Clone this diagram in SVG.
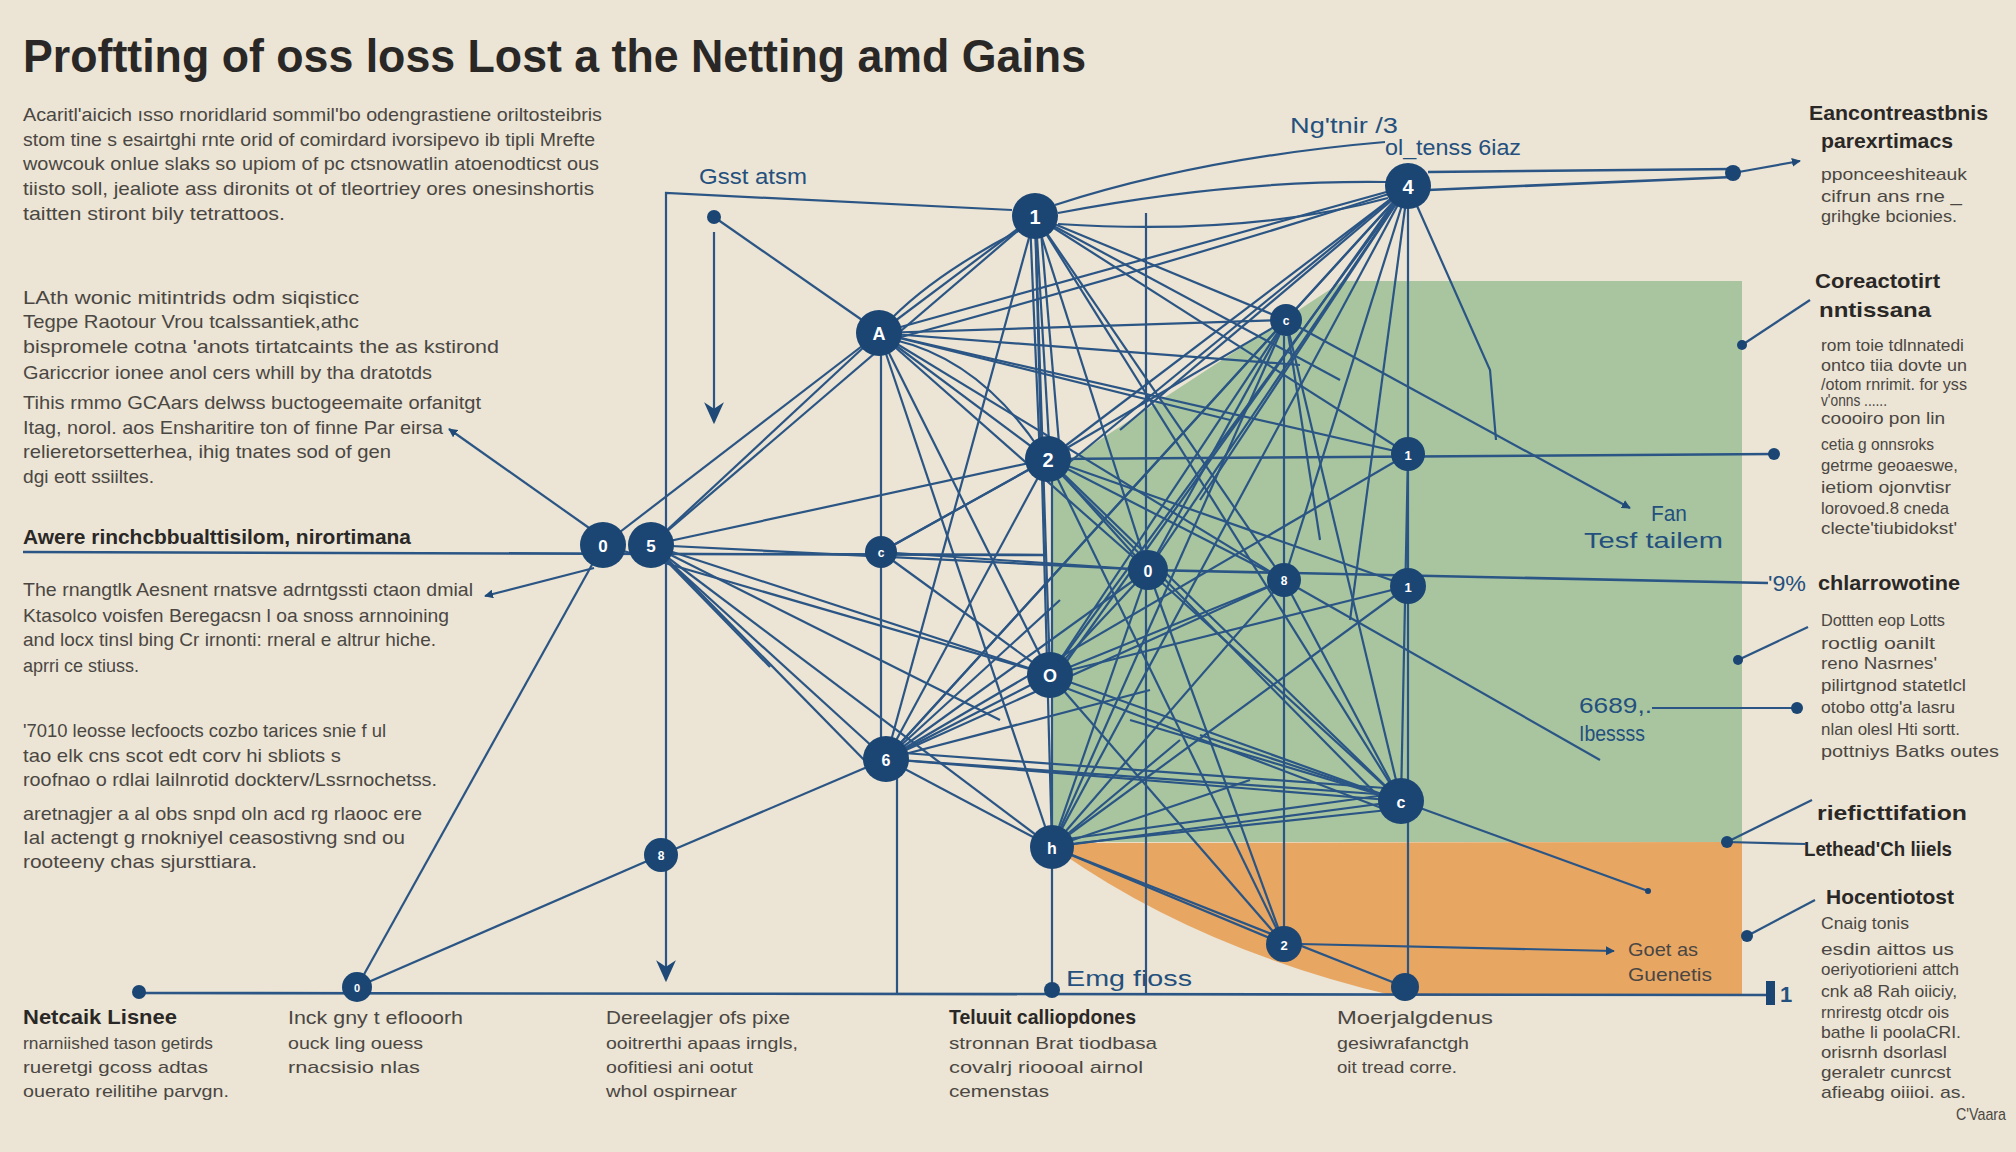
<svg xmlns="http://www.w3.org/2000/svg" width="2016" height="1152" viewBox="0 0 2016 1152">
<defs>
<style>
.t{font-family:"Liberation Sans",Arial,sans-serif;fill:#4a4743;font-size:19px}
.h{font-family:"Liberation Sans",Arial,sans-serif;fill:#2a2826;font-weight:bold;font-size:21px}
.s{font-family:"Liberation Sans",Arial,sans-serif;fill:#4a4743;font-size:17px}
.nv{font-family:"Liberation Sans",Arial,sans-serif;fill:#24507e;font-size:22px}
.e{stroke:#2a5584;stroke-width:2.2;fill:none}
.k{stroke:#2a5584;stroke-width:2.6;fill:none}
.n{fill:#1b4674}
.nl{font-family:"Liberation Sans",Arial,sans-serif;fill:#ffffff;font-weight:bold;text-anchor:middle;dominant-baseline:central}
</style>
<marker id="ar" viewBox="0 0 10 10" refX="9" refY="5" markerWidth="9" markerHeight="9" orient="auto-start-reverse" markerUnits="userSpaceOnUse">
<path d="M0,0 L10,5 L0,10 z" fill="#1f4a78"/>
</marker>
<marker id="arL" viewBox="0 0 10 10" refX="9" refY="5" markerWidth="22" markerHeight="22" orient="auto" markerUnits="userSpaceOnUse">
<path d="M0,0.5 L10,5 L0,9.5 L3,5 z" fill="#1f4a78"/>
</marker>
</defs>
<rect width="2016" height="1152" fill="#ece4d4"/>

<!-- regions -->
<polygon points="1343,281 1742,281 1742,842 1052,842 1052,478 1072,458" fill="#a9c5a0"/>
<path d="M1052,843 L1742,842 L1742,996 L1395,996 Q1200,950 1060,852 Z" fill="#e8a663"/>

<!-- title -->
<text x="23" y="72" font-family="Liberation Sans, Arial, sans-serif" font-weight="bold" font-size="46" fill="#2a2826" textLength="1063" lengthAdjust="spacingAndGlyphs">Proftting of oss loss Lost a the Netting amd Gains</text>

<!-- left paragraphs -->
<g id="para1">
<text class="t" x="23" y="121" textLength="579" lengthAdjust="spacingAndGlyphs">Acaritl'aicich ısso rnoridlarid sommil'bo odengrastiene oriltosteibris</text>
<text class="t" x="23" y="146" textLength="572" lengthAdjust="spacingAndGlyphs">stom tine s esairtghi rnte orid of comirdard ivorsipevo ib tipli Mrefte</text>
<text class="t" x="23" y="170" textLength="576" lengthAdjust="spacingAndGlyphs">wowcouk onlue slaks so upiom of pc ctsnowatlin atoenodticst ous</text>
<text class="t" x="23" y="195" textLength="571" lengthAdjust="spacingAndGlyphs">tiisto soll, jealiote ass dironits ot of tleortriey ores onesinshortis</text>
<text class="t" x="23" y="220" textLength="262" lengthAdjust="spacingAndGlyphs">taitten stiront bily tetrattoos.</text>
</g>
<g id="para2">
<text class="t" x="23" y="304" textLength="336" lengthAdjust="spacingAndGlyphs">LAth wonic mitintrids odm siqisticc</text>
<text class="t" x="23" y="328" textLength="336" lengthAdjust="spacingAndGlyphs">Tegpe Raotour Vrou tcalssantiek,athc</text>
<text class="t" x="23" y="353" textLength="476" lengthAdjust="spacingAndGlyphs">bispromele cotna 'anots tirtatcaints the as kstirond</text>
<text class="t" x="23" y="379" textLength="409" lengthAdjust="spacingAndGlyphs">Gariccrior ionee anol cers whill by tha dratotds</text>
<text class="t" x="23" y="409" textLength="458" lengthAdjust="spacingAndGlyphs">Tihis rmmo GCAars delwss buctogeemaite orfanitgt</text>
<text class="t" x="23" y="434" textLength="420" lengthAdjust="spacingAndGlyphs">Itag, norol. aos Ensharitire ton of finne Par eirsa</text>
<text class="t" x="23" y="458" textLength="368" lengthAdjust="spacingAndGlyphs">relieretorsetterhea, ihig tnates sod of gen</text>
<text class="t" x="23" y="483" textLength="131" lengthAdjust="spacingAndGlyphs">dgi eott ssiiltes.</text>
</g>
<g id="heading-left">
<text class="h" x="23" y="544" font-size="20" textLength="388" lengthAdjust="spacingAndGlyphs">Awere rinchcbbualttisilom, nirortimana</text>
</g>
<g id="para3">
<text class="t" x="23" y="596" textLength="450" lengthAdjust="spacingAndGlyphs">The rnangtlk Aesnent rnatsve adrntgssti ctaon dmial</text>
<text class="t" x="23" y="622" textLength="426" lengthAdjust="spacingAndGlyphs">Ktasolco voisfen Beregacsn l oa snoss arnnoining</text>
<text class="t" x="23" y="646" textLength="413" lengthAdjust="spacingAndGlyphs">and locx tinsl bing Cr irnonti: rneral e altrur hiche.</text>
<text class="t" x="23" y="672" textLength="116" lengthAdjust="spacingAndGlyphs">aprri ce stiuss.</text>
</g>
<g id="para4">
<text class="t" x="23" y="737" textLength="363" lengthAdjust="spacingAndGlyphs">'7010 leosse lecfoocts cozbo tarices snie f ul</text>
<text class="t" x="23" y="762" textLength="318" lengthAdjust="spacingAndGlyphs">tao elk cns scot edt corv hi sbliots s</text>
<text class="t" x="23" y="786" textLength="414" lengthAdjust="spacingAndGlyphs">roofnao o rdlai lailnrotid dockterv/Lssrnochetss.</text>
<text class="t" x="23" y="820" textLength="399" lengthAdjust="spacingAndGlyphs">aretnagjer a al obs snpd oln acd rg rlaooc ere</text>
<text class="t" x="23" y="844" textLength="382" lengthAdjust="spacingAndGlyphs">Ial actengt g rnokniyel ceasostivng snd ou</text>
<text class="t" x="23" y="868" textLength="234" lengthAdjust="spacingAndGlyphs">rooteeny chas sjursttiara.</text>
</g>

<!-- right column -->
<g id="right1">
<text class="h" x="1809" y="120" textLength="179" lengthAdjust="spacingAndGlyphs">Eancontreastbnis</text>
<text class="h" x="1821" y="148" textLength="132" lengthAdjust="spacingAndGlyphs">parexrtimacs</text>
<text class="s" x="1821" y="180" textLength="146" lengthAdjust="spacingAndGlyphs">pponceeshiteauk</text>
<text class="s" x="1821" y="202" textLength="141" lengthAdjust="spacingAndGlyphs">cifrun ans rne _</text>
<text class="s" x="1821" y="222" textLength="136" lengthAdjust="spacingAndGlyphs">grihgke bcionies.</text>
</g>
<g id="right2">
<text class="h" x="1815" y="288" textLength="125" lengthAdjust="spacingAndGlyphs">Coreactotirt</text>
<text class="h" x="1819" y="317" textLength="112" lengthAdjust="spacingAndGlyphs">nntissana</text>
<text class="s" x="1821" y="351" textLength="143" lengthAdjust="spacingAndGlyphs">rom toie tdlnnatedi</text>
<text class="s" x="1821" y="371" textLength="146" lengthAdjust="spacingAndGlyphs">ontco tiia dovte un</text>
<text class="s" x="1821" y="390" textLength="146" lengthAdjust="spacingAndGlyphs">/otom rnrimit. for yss</text>
<text class="s" x="1821" y="406" font-size="8" textLength="66" lengthAdjust="spacingAndGlyphs">v'onns  ......</text>
<text class="s" x="1821" y="424" textLength="124" lengthAdjust="spacingAndGlyphs">coooiro pon lin</text>
<text class="s" x="1821" y="450" textLength="113" lengthAdjust="spacingAndGlyphs">cetia g onnsroks</text>
<text class="s" x="1821" y="471" textLength="137" lengthAdjust="spacingAndGlyphs">getrme geoaeswe,</text>
<text class="s" x="1821" y="493" textLength="130" lengthAdjust="spacingAndGlyphs">ietiom ojonvtisr</text>
<text class="s" x="1821" y="514" textLength="128" lengthAdjust="spacingAndGlyphs">lorovoed.8 cneda</text>
<text class="s" x="1821" y="534" textLength="136" lengthAdjust="spacingAndGlyphs">clecte'tiubidokst'</text>
</g>
<g id="right3">
<text class="nv" x="1768" y="591" font-size="21" textLength="38" lengthAdjust="spacingAndGlyphs">'9%</text>
<text class="h" x="1818" y="590" textLength="142" lengthAdjust="spacingAndGlyphs">chlarrowotine</text>
<text class="s" x="1821" y="626" textLength="124" lengthAdjust="spacingAndGlyphs">Dottten eop Lotts</text>
<text class="s" x="1821" y="649" textLength="114" lengthAdjust="spacingAndGlyphs">roctlig oanilt</text>
<text class="s" x="1821" y="669" textLength="116" lengthAdjust="spacingAndGlyphs">reno Nasrnes'</text>
<text class="s" x="1821" y="691" textLength="145" lengthAdjust="spacingAndGlyphs">pilirtgnod statetlcl</text>
<text class="s" x="1821" y="713" textLength="134" lengthAdjust="spacingAndGlyphs">otobo ottg'a lasru</text>
<text class="s" x="1821" y="735" textLength="139" lengthAdjust="spacingAndGlyphs">nlan olesl Hti sortt.</text>
<text class="s" x="1821" y="757" textLength="178" lengthAdjust="spacingAndGlyphs">pottniys Batks outes</text>
</g>
<g id="right4">
<text class="h" x="1817" y="820" textLength="150" lengthAdjust="spacingAndGlyphs">rieficttifation</text>
<text class="h" x="1804" y="856" textLength="148" lengthAdjust="spacingAndGlyphs">Lethead'Ch liiels</text>
</g>
<g id="right5">
<text class="h" x="1826" y="904" textLength="128" lengthAdjust="spacingAndGlyphs">Hocentiotost</text>
<text class="s" x="1821" y="929" textLength="88" lengthAdjust="spacingAndGlyphs">Cnaig tonis</text>
<text class="s" x="1821" y="955" textLength="133" lengthAdjust="spacingAndGlyphs">esdin aittos us</text>
<text class="s" x="1821" y="975" textLength="138" lengthAdjust="spacingAndGlyphs">oeriyotiorieni attch</text>
<text class="s" x="1821" y="997" textLength="136" lengthAdjust="spacingAndGlyphs">cnk a8 Rah oiiciy,</text>
<text class="s" x="1821" y="1018" textLength="128" lengthAdjust="spacingAndGlyphs">rnrirestg otcdr ois</text>
<text class="s" x="1821" y="1038" textLength="140" lengthAdjust="spacingAndGlyphs">bathe li poolaCRI.</text>
<text class="s" x="1821" y="1058" textLength="126" lengthAdjust="spacingAndGlyphs">orisrnh dsorlasl</text>
<text class="s" x="1821" y="1078" textLength="130" lengthAdjust="spacingAndGlyphs">geraletr cunrcst</text>
<text class="s" x="1821" y="1098" textLength="145" lengthAdjust="spacingAndGlyphs">afieabg oiiioi. as.</text>
<text class="s" x="1956" y="1120" font-size="15" textLength="50" lengthAdjust="spacingAndGlyphs">C'Vaara</text>
</g>

<!-- bottom columns -->
<g id="bottom1">
<text class="h" x="23" y="1024" font-size="20" textLength="154" lengthAdjust="spacingAndGlyphs">Netcaik Lisnee</text>
<text class="s" x="23" y="1049" textLength="190" lengthAdjust="spacingAndGlyphs">rnarniished tason getirds</text>
<text class="s" x="23" y="1073" textLength="185" lengthAdjust="spacingAndGlyphs">rueretgi gcoss adtas</text>
<text class="s" x="23" y="1097" textLength="206" lengthAdjust="spacingAndGlyphs">ouerato reilitihe parvgn.</text>
</g>
<g id="bottom2">
<text class="t" x="288" y="1024" textLength="175" lengthAdjust="spacingAndGlyphs">Inck gny t eflooorh</text>
<text class="s" x="288" y="1049" textLength="135" lengthAdjust="spacingAndGlyphs">ouck ling ouess</text>
<text class="s" x="288" y="1073" textLength="132" lengthAdjust="spacingAndGlyphs">rnacsisio nlas</text>
</g>
<g id="bottom3">
<text class="t" x="606" y="1024" textLength="184" lengthAdjust="spacingAndGlyphs">Dereelagjer ofs pixe</text>
<text class="s" x="606" y="1049" textLength="192" lengthAdjust="spacingAndGlyphs">ooitrerthi apaas irngls,</text>
<text class="s" x="606" y="1073" textLength="147" lengthAdjust="spacingAndGlyphs">oofitiesi ani ootut</text>
<text class="s" x="606" y="1097" textLength="131" lengthAdjust="spacingAndGlyphs">whol ospirnear</text>
</g>
<g id="bottom4">
<text class="h" x="949" y="1024" font-size="20" textLength="187" lengthAdjust="spacingAndGlyphs">Teluuit calliopdones</text>
<text class="s" x="949" y="1049" textLength="208" lengthAdjust="spacingAndGlyphs">stronnan Brat tiodbasa</text>
<text class="s" x="949" y="1073" textLength="194" lengthAdjust="spacingAndGlyphs">covalrj rioooal airnol</text>
<text class="s" x="949" y="1097" textLength="100" lengthAdjust="spacingAndGlyphs">cemenstas</text>
</g>
<g id="bottom5">
<text class="t" x="1337" y="1024" textLength="156" lengthAdjust="spacingAndGlyphs">Moerjalgdenus</text>
<text class="s" x="1337" y="1049" textLength="132" lengthAdjust="spacingAndGlyphs">gesiwrafanctgh</text>
<text class="s" x="1337" y="1073" textLength="120" lengthAdjust="spacingAndGlyphs">oit tread corre.</text>
</g>

<!-- in-diagram labels -->
<g id="labels">
<text class="nv" x="699" y="184" font-size="21" fill="#2e4a68" textLength="108" lengthAdjust="spacingAndGlyphs">Gsst atsm</text>
<text class="nv" x="1290" y="133" font-size="19" fill="#2e4a68" textLength="108" lengthAdjust="spacingAndGlyphs">Ng'tnir /3</text>
<text class="nv" x="1385" y="155" font-size="19" fill="#2e4a68" textLength="136" lengthAdjust="spacingAndGlyphs">ol_tenss 6iaz</text>
<text class="nv" x="1651" y="521" font-size="17" textLength="36" lengthAdjust="spacingAndGlyphs">Fan</text>
<text class="nv" x="1584" y="548" font-size="24" textLength="139" lengthAdjust="spacingAndGlyphs">Tesf tailem</text>
<text class="nv" x="1579" y="713" font-size="22" textLength="73" lengthAdjust="spacingAndGlyphs">6689,.</text>
<text class="nv" x="1579" y="741" font-size="22" textLength="66" lengthAdjust="spacingAndGlyphs">Ibessss</text>
<text class="t" x="1628" y="956" font-size="22" fill="#3e3a36" textLength="70" lengthAdjust="spacingAndGlyphs">Goet as</text>
<text class="t" x="1628" y="981" font-size="21" fill="#3e3a36" textLength="84" lengthAdjust="spacingAndGlyphs">Guenetis</text>
<text class="nv" x="1066" y="986" font-size="25" textLength="126" lengthAdjust="spacingAndGlyphs">Emg fioss</text>
<text class="nv" x="1780" y="1002" font-size="24" font-weight="bold">1</text>
</g>

<!-- connectors -->
<g id="connectors">
<!-- structural lines -->
<line class="k" x1="139" y1="993" x2="1774" y2="995"/>
<line class="k" x1="23" y1="552" x2="1045" y2="555"/>
<polyline class="e" points="1012,210 666,193 666,980" marker-end="url(#arL)"/>
<line class="e" x1="714" y1="232" x2="714" y2="422" marker-end="url(#arL)"/>
<line class="e" x1="714" y1="217" x2="862" y2="320"/>
<line class="e" x1="881" y1="333" x2="881" y2="759"/>
<line class="e" x1="897" y1="778" x2="897" y2="994"/>
<line class="e" x1="1052" y1="478" x2="1052" y2="991"/>
<line class="e" x1="1146" y1="213" x2="1146" y2="994"/>
<line class="e" x1="1284" y1="336" x2="1284" y2="944"/>
<line class="e" x1="1408" y1="186" x2="1408" y2="987"/>
<line class="k" x1="1048" y1="459" x2="1774" y2="454"/>
<line class="k" x1="1148" y1="570" x2="1768" y2="583"/>
<line class="e" x1="1300" y1="944" x2="1614" y2="951" marker-end="url(#ar)"/>
<line class="k" x1="1428" y1="172" x2="1733" y2="169"/>
<line class="k" x1="1428" y1="190" x2="1733" y2="177"/>
<line class="e" x1="1733" y1="173" x2="1800" y2="161" marker-end="url(#ar)"/>
<polyline class="e" points="1410,190 1490,370 1496,440"/>
<line class="e" x1="1286" y1="320" x2="1630" y2="508" marker-end="url(#ar)"/>
<line class="e" x1="1401" y1="801" x2="1648" y2="891"/>
<line class="e" x1="592" y1="530" x2="449" y2="429" marker-end="url(#ar)"/>
<line class="e" x1="594" y1="568" x2="485" y2="596" marker-end="url(#ar)"/>
<line class="e" x1="603" y1="545" x2="357" y2="987"/>
<line class="e" x1="357" y1="987" x2="661" y2="855"/>
<line class="e" x1="661" y1="855" x2="886" y2="759"/>
<path class="e" d="M1055,205 Q1200,158 1385,142"/>
<path class="e" d="M1058,213 Q1230,180 1386,182"/>
<path class="e" d="M1058,224 Q1250,236 1388,198"/>
<!-- callouts -->
<line class="e" x1="1742" y1="345" x2="1810" y2="300"/>
<line class="e" x1="1738" y1="660" x2="1808" y2="627"/>
<line class="e" x1="1727" y1="842" x2="1812" y2="800"/>
<line class="e" x1="1727" y1="842" x2="1806" y2="844"/>
<line class="e" x1="1747" y1="936" x2="1815" y2="900"/>
<line class="e" x1="1652" y1="708" x2="1797" y2="708"/>
<!-- network from node 1 -->
<line class="e" x1="1035" y1="216" x2="879" y2="333"/>
<path class="e" d="M1030,225 Q940,270 892,318"/>
<line class="e" x1="1030" y1="220" x2="1040" y2="459"/>
<line class="e" x1="1036" y1="220" x2="1050" y2="459"/>
<line class="e" x1="1040" y1="220" x2="1060" y2="455"/>
<line class="e" x1="1035" y1="216" x2="1050" y2="675"/>
<line class="e" x1="1035" y1="216" x2="1148" y2="570"/>
<line class="e" x1="1035" y1="216" x2="1284" y2="580"/>
<line class="e" x1="1035" y1="216" x2="1286" y2="320"/>
<line class="e" x1="1035" y1="216" x2="886" y2="759"/>
<line class="e" x1="1035" y1="216" x2="651" y2="545"/>
<line class="e" x1="1035" y1="216" x2="1401" y2="801"/>
<line class="e" x1="1035" y1="216" x2="1408" y2="454"/>
<line class="e" x1="1035" y1="216" x2="1340" y2="380"/>
<line class="e" x1="1035" y1="216" x2="1052" y2="847"/>
<!-- network from node 4 -->
<line class="e" x1="1408" y1="186" x2="1048" y2="459"/>
<line class="e" x1="1402" y1="190" x2="1060" y2="470"/>
<line class="e" x1="1408" y1="186" x2="879" y2="333"/>
<path class="e" d="M1395,192 Q1150,270 890,340"/>
<line class="e" x1="1408" y1="186" x2="1286" y2="320"/>
<line class="e" x1="1408" y1="186" x2="1148" y2="570"/>
<line class="e" x1="1408" y1="186" x2="1050" y2="675"/>
<line class="e" x1="1400" y1="194" x2="1062" y2="668"/>
<line class="e" x1="1408" y1="186" x2="1052" y2="847"/>
<line class="e" x1="1408" y1="186" x2="886" y2="759"/>
<line class="e" x1="1408" y1="186" x2="1284" y2="580"/>
<line class="e" x1="1408" y1="186" x2="1350" y2="620"/>
<line class="e" x1="1404" y1="190" x2="1120" y2="430"/>
<line class="e" x1="1408" y1="186" x2="1200" y2="500"/>
<!-- network from node A -->
<line class="e" x1="879" y1="333" x2="603" y2="545"/>
<line class="e" x1="879" y1="333" x2="651" y2="545"/>
<line class="e" x1="879" y1="333" x2="1048" y2="459"/>
<path class="e" d="M895,340 Q980,360 1040,450"/>
<line class="e" x1="879" y1="333" x2="1050" y2="675"/>
<line class="e" x1="879" y1="333" x2="1052" y2="847"/>
<line class="e" x1="879" y1="333" x2="1148" y2="570"/>
<line class="e" x1="879" y1="333" x2="1284" y2="580"/>
<line class="e" x1="879" y1="333" x2="1286" y2="320"/>
<line class="e" x1="879" y1="333" x2="1300" y2="365"/>
<line class="e" x1="879" y1="333" x2="1408" y2="454"/>
<line class="e" x1="879" y1="333" x2="1230" y2="420"/>
<!-- network from small c -->
<line class="e" x1="1286" y1="320" x2="1048" y2="459"/>
<line class="e" x1="1286" y1="320" x2="1050" y2="675"/>
<line class="e" x1="1286" y1="320" x2="1052" y2="847"/>
<line class="e" x1="1286" y1="320" x2="886" y2="759"/>
<line class="e" x1="1286" y1="320" x2="1148" y2="570"/>
<line class="e" x1="1286" y1="320" x2="1401" y2="801"/>
<line class="e" x1="1286" y1="320" x2="1320" y2="540"/>
<!-- network from node 2 -->
<line class="e" x1="1048" y1="459" x2="886" y2="759"/>
<line class="e" x1="1048" y1="459" x2="1401" y2="801"/>
<line class="e" x1="1055" y1="468" x2="1390" y2="808"/>
<line class="e" x1="1048" y1="459" x2="1284" y2="944"/>
<line class="e" x1="1048" y1="459" x2="1148" y2="570"/>
<line class="e" x1="1048" y1="459" x2="651" y2="545"/>
<line class="e" x1="1048" y1="459" x2="881" y2="552"/>
<line class="e" x1="1048" y1="459" x2="1284" y2="580"/>
<line class="e" x1="1048" y1="459" x2="1408" y2="586"/>
<!-- network from node 0 / 5 / small c -->
<line class="e" x1="603" y1="545" x2="1050" y2="675"/>
<line class="e" x1="651" y1="545" x2="886" y2="759"/>
<line class="e" x1="660" y1="552" x2="872" y2="768"/>
<line class="e" x1="651" y1="545" x2="1050" y2="675"/>
<line class="e" x1="651" y1="545" x2="1052" y2="847"/>
<line class="e" x1="651" y1="545" x2="1148" y2="570"/>
<line class="e" x1="651" y1="545" x2="770" y2="667"/>
<line class="e" x1="651" y1="545" x2="1000" y2="720"/>
<line class="e" x1="881" y1="552" x2="1048" y2="459"/>
<line class="e" x1="881" y1="552" x2="1050" y2="675"/>
<line class="e" x1="881" y1="552" x2="1148" y2="570"/>
<!-- network middle -->
<line class="e" x1="1148" y1="570" x2="1050" y2="675"/>
<line class="e" x1="1148" y1="570" x2="1052" y2="847"/>
<line class="e" x1="1148" y1="570" x2="886" y2="759"/>
<line class="e" x1="1148" y1="570" x2="1401" y2="801"/>
<line class="e" x1="1148" y1="570" x2="1284" y2="944"/>
<line class="e" x1="1284" y1="580" x2="1050" y2="675"/>
<line class="e" x1="1284" y1="580" x2="1052" y2="847"/>
<line class="e" x1="1284" y1="580" x2="886" y2="759"/>
<line class="e" x1="1284" y1="580" x2="1401" y2="801"/>
<line class="e" x1="1284" y1="580" x2="1600" y2="760"/>
<line class="e" x1="1050" y1="675" x2="1401" y2="801"/>
<line class="e" x1="1058" y1="685" x2="1392" y2="812"/>
<line class="e" x1="1050" y1="675" x2="1408" y2="586"/>
<line class="e" x1="1050" y1="675" x2="886" y2="759"/>
<line class="e" x1="1050" y1="675" x2="1284" y2="944"/>
<!-- network from node 6 -->
<line class="e" x1="886" y1="759" x2="1052" y2="847"/>
<line class="e" x1="886" y1="759" x2="1401" y2="801"/>
<line class="e" x1="886" y1="759" x2="1390" y2="795"/>
<line class="e" x1="890" y1="752" x2="1385" y2="788"/>
<line class="e" x1="886" y1="759" x2="1408" y2="454"/>
<line class="e" x1="886" y1="759" x2="1060" y2="600"/>
<line class="e" x1="886" y1="759" x2="1150" y2="690"/>
<!-- network from node h -->
<line class="e" x1="1052" y1="847" x2="1284" y2="944"/>
<line class="e" x1="1052" y1="847" x2="1405" y2="987"/>
<line class="e" x1="1052" y1="847" x2="1401" y2="801"/>
<line class="e" x1="1060" y1="840" x2="1385" y2="795"/>
<line class="e" x1="1060" y1="845" x2="1388" y2="810"/>
<line class="e" x1="1052" y1="847" x2="1408" y2="586"/>
<line class="e" x1="1052" y1="847" x2="1250" y2="780"/>
<line class="e" x1="1052" y1="847" x2="1180" y2="740"/>
<line class="e" x1="1401" y1="801" x2="1200" y2="735"/>
<line class="e" x1="1401" y1="801" x2="1130" y2="720"/>
<line class="e" x1="1401" y1="801" x2="1408" y2="454"/>
</g>

<!-- nodes -->
<g id="node-1"><circle class="n" cx="1035" cy="216" r="23"/><text class="nl" x="1035" y="217" font-size="20">1</text></g>
<g id="node-4"><circle class="n" cx="1408" cy="186" r="23"/><text class="nl" x="1408" y="187" font-size="20">4</text></g>
<g id="node-A"><circle class="n" cx="879" cy="333" r="23"/><text class="nl" x="879" y="334" font-size="18">A</text></g>
<g id="node-c1"><circle class="n" cx="1286" cy="320" r="16"/><text class="nl" x="1286" y="321" font-size="12">c</text></g>
<g id="node-2"><circle class="n" cx="1048" cy="459" r="23"/><text class="nl" x="1048" y="460" font-size="20">2</text></g>
<g id="node-1b"><circle class="n" cx="1408" cy="454" r="17"/><text class="nl" x="1408" y="455" font-size="13">1</text></g>
<g id="node-0"><circle class="n" cx="603" cy="545" r="23"/><text class="nl" x="603" y="546" font-size="17">0</text></g>
<g id="node-5"><circle class="n" cx="651" cy="545" r="23"/><text class="nl" x="651" y="546" font-size="17">5</text></g>
<g id="node-c2"><circle class="n" cx="881" cy="552" r="16"/><text class="nl" x="881" y="553" font-size="12">c</text></g>
<g id="node-0b"><circle class="n" cx="1148" cy="570" r="20"/><text class="nl" x="1148" y="571" font-size="16">0</text></g>
<g id="node-8"><circle class="n" cx="1284" cy="580" r="17"/><text class="nl" x="1284" y="581" font-size="12">8</text></g>
<g id="node-1c"><circle class="n" cx="1408" cy="586" r="18"/><text class="nl" x="1408" y="587" font-size="13">1</text></g>
<g id="node-O"><circle class="n" cx="1050" cy="675" r="23"/><text class="nl" x="1050" y="676" font-size="18">O</text></g>
<g id="node-6"><circle class="n" cx="886" cy="759" r="23"/><text class="nl" x="886" y="760" font-size="16">6</text></g>
<g id="node-c3"><circle class="n" cx="1401" cy="801" r="23"/><text class="nl" x="1401" y="802" font-size="16">c</text></g>
<g id="node-8b"><circle class="n" cx="661" cy="855" r="17"/><text class="nl" x="661" y="856" font-size="12">8</text></g>
<g id="node-h"><circle class="n" cx="1052" cy="847" r="22"/><text class="nl" x="1052" y="848" font-size="16">h</text></g>
<g id="node-2b"><circle class="n" cx="1284" cy="944" r="18"/><text class="nl" x="1284" y="945" font-size="13">2</text></g>
<g id="node-0c"><circle class="n" cx="357" cy="987" r="15"/><text class="nl" x="357" y="988" font-size="11">0</text></g>
<g id="node-b1"><circle class="n" cx="1405" cy="987" r="14"/></g>
<g id="node-b2"><circle class="n" cx="1052" cy="990" r="8"/></g>
<g id="dots">
<circle class="n" cx="139" cy="992" r="7"/>
<circle class="n" cx="714" cy="217" r="7"/>
<circle class="n" cx="1733" cy="173" r="8"/>
<circle class="n" cx="1774" cy="454" r="6"/>
<circle class="n" cx="1797" cy="708" r="6"/>
<circle class="n" cx="1742" cy="345" r="5"/>
<circle class="n" cx="1738" cy="660" r="5"/>
<circle class="n" cx="1727" cy="842" r="6"/>
<circle class="n" cx="1747" cy="936" r="6"/>
<circle class="n" cx="1648" cy="891" r="3"/>
<rect class="n" x="1766" y="981" width="9" height="24"/>
</g>
</svg>
